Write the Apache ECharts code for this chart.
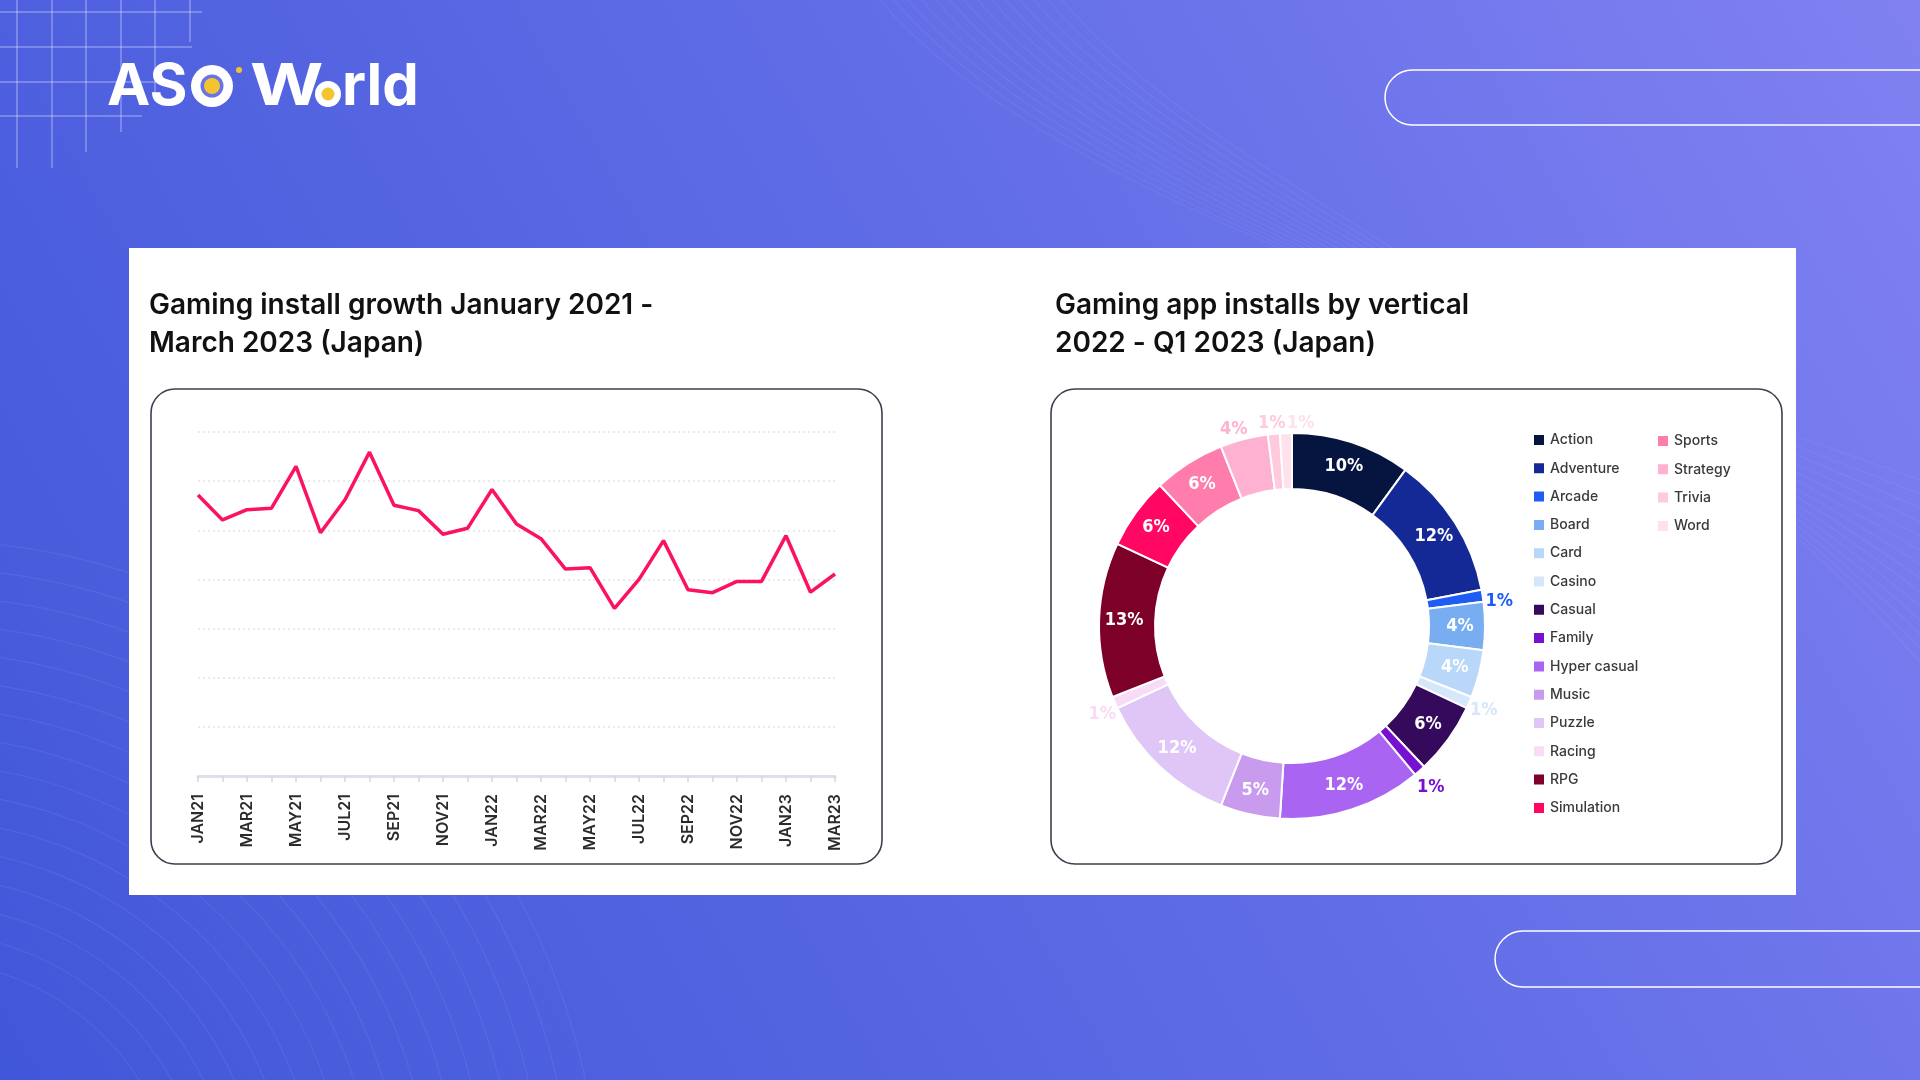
<!DOCTYPE html>
<html>
<head>
<meta charset="utf-8">
<style>
html,body{margin:0;padding:0;width:1920px;height:1080px;overflow:hidden;background:#5a66e2;}
#c{width:1920px;height:1080px;}
</style>
<script src="https://cdn.jsdelivr.net/npm/echarts@6/dist/echarts.min.js"></script>
</head>
<body>
<div id="c"></div>
<script>
// ---------- data ----------
const months = ['JAN21','FEB21','MAR21','APR21','MAY21','JUN21','JUL21','AUG21','SEP21','OCT21','NOV21','DEC21',
  'JAN22','FEB22','MAR22','APR22','MAY22','JUN22','JUL22','AUG22','SEP22','OCT22','NOV22','DEC22',
  'JAN23','FEB23','MAR23'];
const installGrowth = [5.72,5.21,5.42,5.45,6.30,4.95,5.62,6.59,5.51,5.40,4.92,5.04,
  5.83,5.13,4.83,4.21,4.24,3.41,4.00,4.79,3.79,3.73,3.96,3.96,
  4.89,3.74,4.11];
const verticals = ['Action','Adventure','Arcade','Board','Card','Casino','Casual','Family','Hyper casual',
  'Music','Puzzle','Racing','RPG','Simulation','Sports','Strategy','Trivia','Word'];
const shares = [10,12,1,4,4,1,6,1,12,5,12,1,13,6,6,4,1,1];
const legendCol1 = verticals.slice(0,14);
const legendCol2 = verticals.slice(14);
const titleLeft = 'Gaming install growth January 2021 -\nMarch 2023 (Japan)';
const titleRight = 'Gaming app installs by vertical\n2022 - Q1 2023 (Japan)';

// ---------- styles ----------
const palette = ['#06153f','#152996','#1f5cf3','#78adf1','#b9d7f8','#d6e7fa','#35095c','#7612cf','#a965f2',
  '#c99bee','#dfc6f6','#f8dcf6','#7c0027','#ff0762','#ff7dac','#ffb1d1','#ffc9de','#ffe1eb'];
const outsideLabels = ['Arcade','Casino','Family','Racing','Strategy','Trivia','Word'];
const labelTweak = {Arcade:{dy:6, dx:-4}, Casino:{dy:7, dx:-6}, Family:{dy:15, dx:-9}, Racing:{dy:11, dx:8},
  Strategy:{dy:-8, dx:9}, Trivia:{dy:-9, dx:3, align:'center'}, Word:{dy:-8, align:'left', dx:6}};

const chart = echarts.init(document.getElementById('c'), null, {renderer:'canvas'});

// decorative background
const deco = [];
deco.push({type:'rect', z:-20, shape:{x:0,y:0,width:1920,height:1080},
  style:{fill:new echarts.graphic.LinearGradient(0,1,1,0,[{offset:0,color:'#4157d9'},{offset:0.55,color:'#5f6ce6'},{offset:1,color:'#8181f1'}])}});
for (let i=0;i<16;i++){
  deco.push({type:'arc', z:-19, shape:{cx:-80, cy:1220, r:260+i*28, startAngle:-Math.PI/2, endAngle:0},
    style:{stroke:'rgba(255,255,255,0.07)', lineWidth:1.2, fill:null}});
}
for (let i=0;i<14;i++){
  deco.push({type:'bezierCurve', z:-19, shape:{x1:880+i*14, y1:0, cpx1:1050+i*14, cpy1:200, cpx2:1500+i*10, cpy2:330, x2:1920, y2:480+i*14},
    style:{stroke:'rgba(255,255,255,0.06)', lineWidth:1.2, fill:null}});
}
const vx=[17,52,86,121,155,190], vlen=[168,168,152,132,100,42];
vx.forEach((x,i)=>deco.push({type:'line', z:-18, shape:{x1:x,y1:0,x2:x,y2:vlen[i]}, style:{stroke:'rgba(255,255,255,0.5)', lineWidth:1}}));
const hy=[12,47,82,116], hlen=[202,192,178,142];
hy.forEach((y,i)=>deco.push({type:'line', z:-18, shape:{x1:0,y1:y,x2:hlen[i],y2:y}, style:{stroke:'rgba(255,255,255,0.5)', lineWidth:1}}));
deco.push({type:'rect', z:-17, shape:{x:1385,y:70,width:700,height:55,r:27.5}, style:{fill:null, stroke:'#ffffff', lineWidth:1.5}});
deco.push({type:'rect', z:-17, shape:{x:1495,y:931,width:700,height:56,r:28}, style:{fill:null, stroke:'#ffffff', lineWidth:1.5}});
// logo
const logoFont = {fontFamily:'Inter', fontWeight:700, fontSize:58};
deco.push({type:'text', z:-16, style:Object.assign({text:'AS', x:107, y:88, fill:'#fff', textVerticalAlign:'middle'}, logoFont)});
deco.push({type:'circle', z:-16, shape:{cx:212, cy:86, r:21}, style:{fill:'#ffffff'}});
deco.push({type:'circle', z:-16, shape:{cx:212, cy:86, r:11.5}, style:{fill:'#6a74e6'}});
deco.push({type:'circle', z:-16, shape:{cx:212, cy:86, r:8}, style:{fill:'#f4c430'}});
deco.push({type:'circle', z:-16, shape:{cx:239, cy:70, r:3}, style:{fill:'#f4c430'}});
deco.push({type:'text', z:-16, x:250, y:88, scaleX:1.22, style:Object.assign({text:'W', x:0, y:0, fill:'#fff', textVerticalAlign:'middle'}, logoFont)});
deco.push({type:'circle', z:-16, shape:{cx:328, cy:94, r:13}, style:{fill:'#ffffff'}});
deco.push({type:'circle', z:-16, shape:{cx:328, cy:94, r:6.5}, style:{fill:'#f4c430'}});
deco.push({type:'text', z:-16, style:Object.assign({text:'rld', x:342, y:88, fill:'#fff', textVerticalAlign:'middle'}, logoFont)});
// white panel and boxes
deco.push({type:'rect', z:-15, shape:{x:129,y:248,width:1667,height:647}, style:{fill:'#ffffff'}});
deco.push({type:'rect', z:-14, shape:{x:151,y:389,width:731,height:475,r:24}, style:{fill:'#fff', stroke:'#3a404c', lineWidth:1.6}});
deco.push({type:'rect', z:-14, shape:{x:1051,y:389,width:731,height:475,r:24}, style:{fill:'#fff', stroke:'#3a404c', lineWidth:1.6}});

const pieData = verticals.map((n,i)=>{
  const out = outsideLabels.indexOf(n) >= 0;
  return {name:n, value:shares[i], itemStyle:{color:palette[i]},
    label: out ? {position:'outside', color:palette[i]} : {position:'inside', color:'#ffffff'}};
});

const titleStyle = {fontFamily:'Inter', fontWeight:600, fontSize:28, lineHeight:38, color:'#111111'};
const legendBase = {orient:'vertical', icon:'rect', itemWidth:12, itemHeight:12, itemGap:14.3, selectedMode:false,
  textStyle:{fontFamily:'Inter', fontSize:14, fontWeight:500, color:'#3a3a3a'}};

chart.setOption({
  animation:false,
  graphic: deco,
  title:[
    {text:titleLeft, left:149, top:287, padding:0, textStyle:titleStyle},
    {text:titleRight, left:1055, top:287, padding:0, textStyle:titleStyle}
  ],
  legend:[
    Object.assign({data:legendCol1, left:1527, top:428}, legendBase),
    Object.assign({data:legendCol2, left:1651, top:429}, legendBase)
  ],
  grid:{left:198, top:432, width:637, height:344},
  xAxis:{type:'category', data:months, boundaryGap:false,
    axisLine:{lineStyle:{color:'#dde1e7', width:3}},
    axisTick:{show:true, alignWithLabel:true, interval:0, length:6, lineStyle:{color:'#d4d8de', width:1.5}},
    axisLabel:{interval:1, rotate:90, margin:18, fontFamily:'Inter', fontSize:16, fontWeight:600, color:'#2b2b2b'}},
  yAxis:{type:'value', min:0, max:7, interval:1,
    axisLabel:{show:false}, axisLine:{show:false}, axisTick:{show:false},
    splitLine:{lineStyle:{color:'#e1e3e7', width:1.5, type:[2,3]}}},
  series:[
    {type:'line', data:installGrowth, symbol:'none', smooth:false,
      lineStyle:{color:'#fb1262', width:3.5}},
    {type:'pie', center:[1292,626], radius:[137,193], startAngle:90, clockwise:true,
      avoidLabelOverlap:false, data:pieData,
      itemStyle:{borderColor:'#ffffff', borderWidth:2},
      label:{formatter:'{c}%', fontFamily:'"DejaVu Sans"', fontWeight:'bold condensed', fontSize:18, letterSpacing:-1},
      labelLine:{show:false, length:2, length2:0},
      labelLayout:function(p){
        return labelTweak[verticals[p.dataIndex]] || {};
      },
      emphasis:{disabled:true}}
  ]
});
</script>
</body>
</html>
